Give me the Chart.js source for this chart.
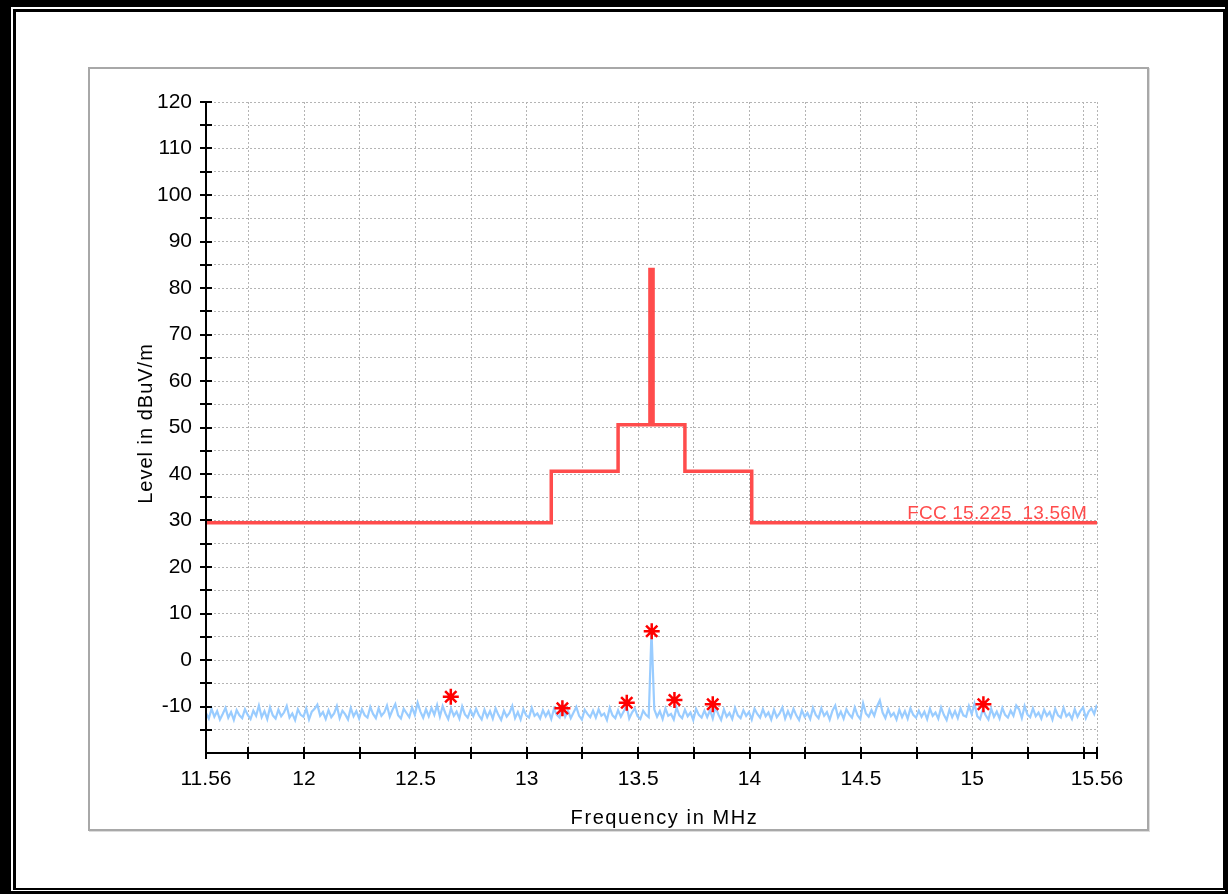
<!DOCTYPE html>
<html>
<head>
<meta charset="utf-8">
<script src="https://cdn.jsdelivr.net/npm/chart.js@4.4.1/dist/chart.umd.min.js"></script>
<style>
html,body{margin:0;padding:0;background:#fff;}
body{width:1228px;height:894px;position:relative;overflow:hidden;}
#outer{position:absolute;left:0;top:0;width:1228px;height:894px;box-sizing:border-box;border-style:solid;border-color:#000;border-width:7px 3px 3px 11px;}
#inner{position:absolute;left:13px;top:9px;width:1212px;height:881px;box-sizing:border-box;border-style:solid;border-color:#000;border-width:3px 2px 2px 3px;}
#panel{position:absolute;left:88px;top:67px;width:1061px;height:764px;box-sizing:border-box;border:2px solid #a8a8a8;background:#fff;box-shadow:1px 1px 0 #dcdcdc;}
#chartbox{position:absolute;left:90px;top:69px;width:1057px;height:760px;overflow:hidden;}
</style>
</head>
<body>
<div id="outer"></div>
<div id="inner"></div>
<div id="panel"></div>
<div id="chartbox"><canvas id="c" width="1057" height="760"></canvas></div>
<script>
// ---- Data ----
const xTickValues = [11.56, 11.75, 12, 12.25, 12.5, 12.75, 13, 13.25, 13.5, 13.75, 14, 14.25, 14.5, 14.75, 15, 15.25, 15.5, 15.56];
const xTickLabels = ['11.56', '12', '12.5', '13', '13.5', '14', '14.5', '15', '15.56'];
const yTickLabels = [120, 110, 100, 90, 80, 70, 60, 50, 40, 30, 20, 10, 0, -10];

const limitName = 'FCC 15.225_13.56M';
const limitFreq  = [11.56, 13.11, 13.11, 13.41, 13.41, 13.553, 13.553, 13.567, 13.567, 13.71, 13.71, 14.01, 14.01, 15.56];
const limitLevel = [29.5, 29.5, 40.6, 40.6, 50.6, 50.6, 84, 84, 50.6, 50.6, 40.6, 40.6, 29.5, 29.5];

const noiseStartMHz = 11.56;
const noiseStepMHz = 0.0125;
const noiseLevel = [
  -11.4,-12.6,-10.5,-12.2,-11.0,-12.8,-11.6,-10.3,-12.4,-11.2,-12.9,-10.8,-11.9,-12.5,-10.6,-11.8,-12.7,-10.9,-12.0,-9.8,
  -12.3,-11.0,-12.7,-10.2,-11.9,-12.6,-10.7,-12.1,-11.3,-9.9,-12.4,-11.5,-12.9,-10.6,-11.8,-12.2,-10.4,-12.8,-11.1,-10.5,
  -9.6,-12.0,-11.2,-12.7,-10.8,-12.3,-11.5,-9.9,-12.5,-10.9,-11.7,-12.8,-10.3,-12.1,-11.0,-12.6,-10.6,-11.9,-12.4,-10.1,
  -11.6,-12.5,-10.4,-12.0,-11.3,-9.8,-12.2,-10.7,-9.5,-11.9,-12.6,-10.5,-11.4,-12.3,-10.2,-11.8,-9.2,-11.1,-12.4,-10.6,
  -12.1,-10.3,-11.8,-9.7,-12.2,-9.9,-11.5,-12.7,-10.4,-12.0,-11.1,-12.6,-10.0,-11.7,-12.4,-10.8,-12.1,-10.5,-11.9,-12.8,
  -10.7,-12.3,-11.0,-12.6,-10.4,-11.8,-12.9,-10.9,-12.2,-11.4,-9.9,-12.5,-11.2,-12.8,-10.6,-11.9,-12.4,-10.3,-12.0,-11.5,
  -12.6,-10.8,-12.1,-11.0,-12.7,-10.5,-11.8,-12.4,-9.6,-12.2,-10.9,-12.5,-11.3,-10.1,-12.0,-12.8,-10.7,-11.6,-12.3,-10.9,
  -12.4,-10.6,-12.0,-11.5,-12.9,-10.3,-11.9,-12.5,-10.8,-12.2,-11.1,-9.8,-12.6,-11.3,-10.4,-12.1,-12.7,-10.9,-11.8,-12.3,
  6.2,-10.6,-12.2,-11.0,-12.7,-10.4,-12.0,-11.6,-12.8,-10.2,-11.9,-12.5,-10.7,-12.1,-11.3,-12.9,-10.5,-11.8,-12.4,-10.9,
  -12.3,-10.8,-12.6,-10.1,-11.7,-12.9,-10.6,-12.2,-11.4,-12.7,-10.3,-11.9,-12.5,-10.8,-12.0,-11.2,-12.8,-10.5,-11.6,-12.4,
  -10.6,-12.1,-11.3,-12.8,-10.7,-12.3,-11.5,-10.2,-12.6,-11.0,-12.4,-10.5,-11.9,-12.9,-10.8,-12.2,-11.4,-12.7,-10.3,-11.8,
  -12.5,-10.4,-12.0,-11.2,-12.8,-10.9,-9.8,-12.3,-11.1,-12.6,-10.6,-11.7,-12.4,-10.2,-11.9,-12.7,-9.3,-11.5,-12.2,-10.8,
  -12.0,-10.0,-8.7,-11.3,-12.5,-10.6,-12.1,-11.4,-12.8,-10.7,-12.3,-11.0,-12.6,-10.4,-11.8,-12.4,-10.9,-12.2,-11.1,-12.7,
  -10.5,-12.0,-11.3,-12.6,-10.2,-11.8,-12.9,-10.7,-12.3,-11.0,-12.5,-10.4,-11.9,-12.2,-9.9,-11.6,-9.4,-12.1,-12.7,-10.6,
  -11.9,-12.8,-10.5,-12.2,-11.1,-12.6,-10.3,-11.8,-12.4,-10.9,-12.0,-9.8,-10.6,-12.5,-9.9,-11.7,-12.3,-10.4,-12.1,-11.3,
  -12.6,-10.7,-12.0,-11.2,-12.8,-10.5,-11.9,-12.4,-10.3,-12.1,-11.5,-12.7,-10.6,-12.2,-11.0,-10.2,-12.5,-11.1,-10.4,-11.6,
  -9.6
];

const markerFreq  = [12.659, 13.16, 13.449, 13.561, 13.663, 13.835, 15.05];
const markerLevel = [-7.9, -10.4, -9.2, 6.2, -8.6, -9.5, -9.5];

// ---- Build datasets ----
const limitColor = '#ff4c4c';
const limitData = limitFreq.map((f, i) => ({x: f, y: limitLevel[i]}));
const noiseData = noiseLevel.map((v, i) => ({x: Math.round((noiseStartMHz + i * noiseStepMHz) * 10000) / 10000, y: v}));
const markerData = markerFreq.map((f, i) => ({x: f, y: markerLevel[i]}));

const tickFont = {family: '"Liberation Sans Narrow", "Liberation Sans", Arial, sans-serif', size: 21};
Chart.defaults.font.family = '"Liberation Sans", Arial, sans-serif';
Chart.defaults.font.size = 19;
Chart.defaults.color = '#000';

const axesPlugin = {
  id: 'axesPlugin',
  afterDraw(chart) {
    const {ctx, chartArea: a, scales} = chart;
    const xs = scales.x, ys = scales.y;
    ctx.save();
    ctx.strokeStyle = '#000';
    ctx.lineWidth = 2;
    ctx.beginPath();
    ctx.moveTo(a.left, a.top);
    ctx.lineTo(a.left, a.bottom);
    ctx.moveTo(a.left - 1, a.bottom);
    ctx.lineTo(a.right, a.bottom);
    const tl = 6;
    ys.ticks.forEach(t => {
      if (t.value === ys.min) return;
      const py = Math.round(ys.getPixelForValue(t.value));
      ctx.moveTo(a.left - tl, py);
      ctx.lineTo(a.left + tl, py);
    });
    xs.ticks.forEach(t => {
      const px = Math.round(xs.getPixelForValue(t.value));
      ctx.moveTo(px, a.bottom - tl);
      ctx.lineTo(px, a.bottom + tl);
    });
    ctx.stroke();

    // limit label
    ctx.fillStyle = limitColor;
    ctx.font = '19px "Liberation Sans", Arial, sans-serif';
    ctx.textAlign = 'right';
    ctx.textBaseline = 'alphabetic';
    ctx.letterSpacing = '0.2px';
    ctx.fillText(limitName, xs.getPixelForValue(xs.max) - 10, ys.getPixelForValue(limitLevel[limitLevel.length - 1]) - 4);

    // axis titles
    ctx.fillStyle = '#000';
    ctx.textAlign = 'center';
    ctx.font = '20px "Liberation Sans", Arial, sans-serif';
    ctx.letterSpacing = '1.6px';
    ctx.fillText('Frequency in MHz', (a.left + a.right) / 2 + 13, a.bottom + 71);
    ctx.letterSpacing = '1px';
    ctx.translate(a.left - 60, (a.top + a.bottom) / 2 - 4);
    ctx.rotate(-Math.PI / 2);
    ctx.textBaseline = 'middle';
    ctx.fillText('Level in dBuV/m', 0, 0);
    ctx.restore();
  }
};

new Chart(document.getElementById('c'), {
  type: 'line',
  data: {
    datasets: [
      {
        type: 'scatter',
        label: 'Markers',
        data: markerData,
        showLine: false,
        pointStyle: 'star',
        pointRadius: 8,
        pointBorderWidth: 2.5,
        borderColor: '#ff0000',
        backgroundColor: '#ff0000',
        pointBorderColor: '#ff0000'
      },
      {
        label: limitName,
        data: limitData,
        borderColor: limitColor,
        borderWidth: 3.5,
        pointRadius: 0,
        tension: 0,
        fill: false
      },
      {
        label: 'Level',
        data: noiseData,
        borderColor: '#99ccff',
        borderWidth: 2.2,
        pointRadius: 0,
        tension: 0,
        fill: false
      }
    ]
  },
  options: {
    responsive: false,
    animation: false,
    devicePixelRatio: 1,
    layout: {padding: {left: 0, top: 33, right: 50, bottom: 0}},
    plugins: {legend: {display: false}, tooltip: {enabled: false}},
    scales: {
      x: {
        type: 'linear',
        min: 11.56,
        max: 15.56,
        offset: false,
        afterBuildTicks: s => { s.ticks = xTickValues.map(v => ({value: v})); },
        afterFit: s => { s.height = 76; s.paddingLeft = 0; s.paddingRight = 0; },
        ticks: {
          autoSkip: false,
          maxRotation: 0,
          padding: 14,
          font: tickFont,
          callback: v => xTickLabels.includes(String(v)) ? String(v) : ''
        },
        grid: {color: '#b4b4b4', lineWidth: 1, drawTicks: false},
        border: {display: false, dash: [2, 2]}
      },
      y: {
        type: 'linear',
        min: -20,
        max: 120,
        afterFit: s => { s.width = 116; s.paddingTop = 0; s.paddingBottom = 0; },
        ticks: {
          stepSize: 5,
          autoSkip: false,
          padding: 14,
          font: tickFont,
          callback: v => yTickLabels.includes(v) ? String(v) : ''
        },
        grid: {color: '#b4b4b4', lineWidth: 1, drawTicks: false},
        border: {display: false, dash: [2, 2]}
      }
    }
  },
  plugins: [axesPlugin]
});
</script>
</body>
</html>
